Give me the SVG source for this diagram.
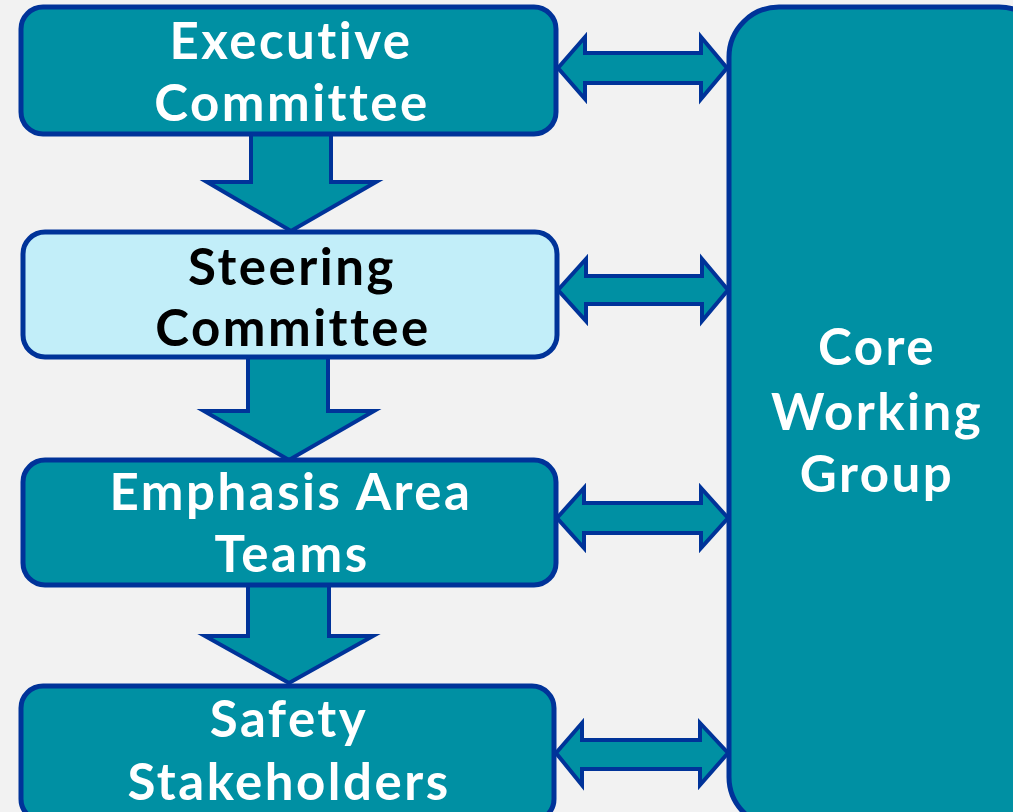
<svg xmlns="http://www.w3.org/2000/svg" width="1013" height="812" viewBox="0 0 1013 812">
<style>
.box{fill:#0090a3;stroke:#003399;stroke-width:5}
.light{fill:#c2eef9}
.arr{fill:#0090a3;stroke:#003399;stroke-width:4;stroke-linejoin:miter}
text{font-family:Lato,"Open Sans","Liberation Sans",sans-serif;font-weight:bold;font-size:51px;letter-spacing:2.5px;font-variant-ligatures:none;fill:#ffffff;text-anchor:middle}
.dark{fill:#000000}
</style>
<rect width="1013" height="812" fill="#f2f2f2"/>
<g id="connectors">
<polygon class="arr" points="251,133 331,133 331,182 376,182 291,231 207,182 251,182"/>
<polygon class="arr" points="248,357 328,357 328,411 374,411 289,460 204,411 248,411"/>
<polygon class="arr" points="248,585 329,585 329,636 373,636 289,683 205,636 248,636"/>
<polygon class="arr" points="558,68 585,37 585,53 701,53 701,37 727,68 701,99 701,83 585,83 585,99"/>
<polygon class="arr" points="558,290 586,259 586,276 702,276 702,259 728,290 702,321 702,304 586,304 586,321"/>
<polygon class="arr" points="557,518 584,488 584,503 701,503 701,488 728,518 701,548 701,533 584,533 584,548"/>
<polygon class="arr" points="556,753 582,723 582,740 700,740 700,723 728,753 700,785 700,769 582,769 582,785"/>
</g>
<g id="executive">
<rect class="box" x="21" y="7" width="535" height="127" rx="22"/>
<text x="291" y="59">Executive</text>
<text x="292" y="121">Committee</text>
</g>
<g id="steering">
<rect class="box light" x="23" y="232" width="534" height="125" rx="22"/>
<text class="dark" x="292" y="285">Steering</text>
<text class="dark" x="293" y="346">Committee</text>
</g>
<g id="emphasis">
<rect class="box" x="23" y="460" width="533" height="125" rx="22"/>
<text x="291" y="510">Emphasis Area</text>
<text x="292" y="572">Teams</text>
</g>
<g id="safety">
<rect class="box" x="21" y="686" width="533" height="135" rx="22"/>
<text x="289" y="737">Safety</text>
<text x="289" y="800">Stakeholders</text>
</g>
<g id="core">
<rect class="box" x="729" y="7" width="320" height="820" rx="50"/>
<text x="877" y="365">Core</text>
<text x="877" y="430">Working</text>
<text x="877" y="492">Group</text>
</g>
</svg>
